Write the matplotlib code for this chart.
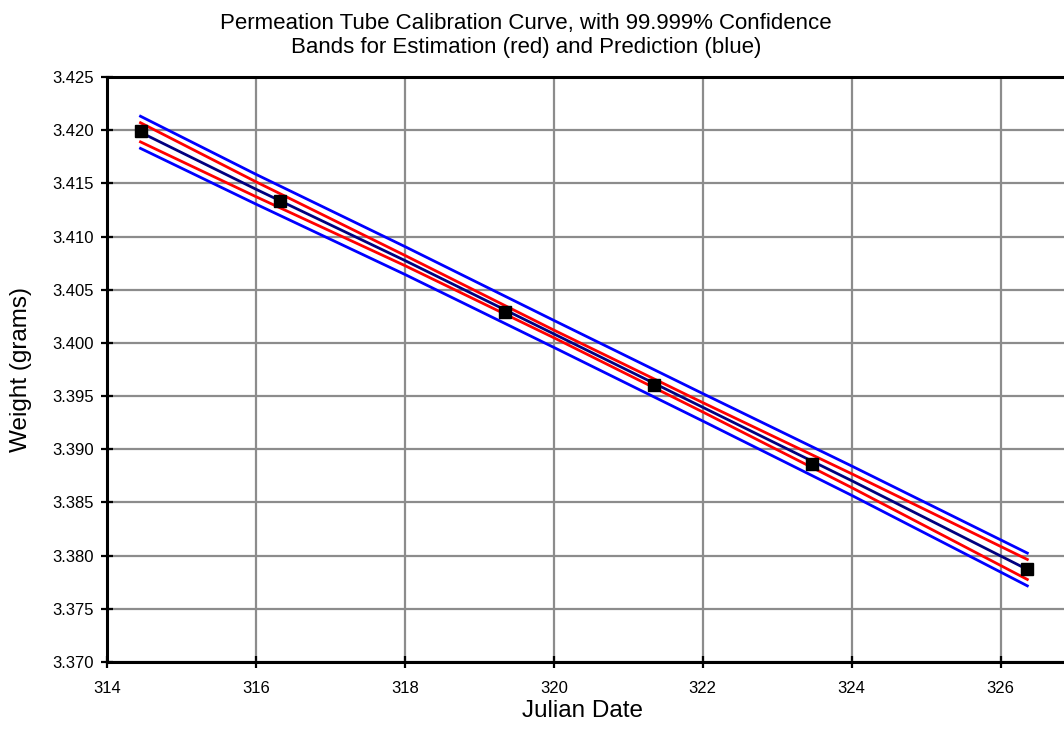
import numpy as np
from matplotlib import pyplot as plt

plt.rcParams['font.family'] = ['Liberation Sans', 'DejaVu Sans']

# measured weights
julian_date = [314.45, 316.32, 319.35, 321.35, 323.47, 326.36]
weight = [3.4199, 3.4133, 3.4029, 3.3960, 3.3886, 3.3787]

band_date = [314.45, 316.0, 318.0, 320.0, 322.0, 324.0, 326.36]
fit_weight = [3.4198, 3.41445, 3.40775, 3.40085, 3.39395, 3.38705, 3.3787]
est_half = [0.00090, 0.00070, 0.00048, 0.00036, 0.00044, 0.00065, 0.00094]
pred_half = [0.00151, 0.00140, 0.00131, 0.00127, 0.00129, 0.00138, 0.00154]

x_ticks = [314, 316, 318, 320, 322, 324, 326]
y_ticks = [3.370, 3.375, 3.380, 3.385, 3.390, 3.395, 3.400,
           3.405, 3.410, 3.415, 3.420, 3.425]

W, H = 1064, 738
fig = plt.figure(figsize=(W / 100, H / 100), dpi=100)
ax = fig.add_axes([107 / W, 1 - 662 / H, (1075 - 107) / W, (662 - 77) / H])

bd = np.array(band_date)
fw = np.array(fit_weight)
eh = np.array(est_half)
ph = np.array(pred_half)

ax.plot(bd, fw + ph, color='#0000ff', lw=2, zorder=3)
ax.plot(bd, fw - ph, color='#0000ff', lw=2, zorder=3)
ax.plot(bd, fw + eh, color='#ff0000', lw=2, zorder=3)
ax.plot(bd, fw - eh, color='#ff0000', lw=2, zorder=3)
ax.plot(bd, fw, color='#000080', lw=2, zorder=3)
ax.plot(julian_date, weight, 's', color='black', ms=8, zorder=4)

ax.set_xlim(314, 327)
ax.set_ylim(3.370, 3.425)
ax.set_xticks(x_ticks)
ax.set_yticks(y_ticks)
ax.set_yticklabels(['%.3f' % v for v in y_ticks])
ax.grid(True, color='#8c8c8c', lw=1.6, zorder=1)
ax.set_axisbelow(True)

for side in ['left', 'bottom', 'top']:
    ax.spines[side].set_linewidth(2.2)
    ax.spines[side].set_color('black')
ax.spines['right'].set_visible(False)
ax.tick_params(direction='inout', length=9, width=1.6, labelsize=12,
               colors='black')
ax.tick_params(axis='x', pad=9)
ax.tick_params(axis='y', pad=5)

ax.set_xlabel('Julian Date', fontsize=17.5)
ax.xaxis.set_label_coords((582 - 107) / (1075 - 107), -0.065)
ax.set_ylabel('Weight (grams)', fontsize=17.5)
ax.yaxis.set_label_coords(-0.077, 0.5)

fig.text(526 / W, 1 - 24 / H, 'Permeation Tube Calibration Curve, with 99.999% Confidence',
         ha='center', va='center', fontsize=16)
fig.text(526 / W, 1 - 48 / H, 'Bands for Estimation (red) and Prediction (blue)',
         ha='center', va='center', fontsize=16)

fig.savefig('out.png', dpi=100)
